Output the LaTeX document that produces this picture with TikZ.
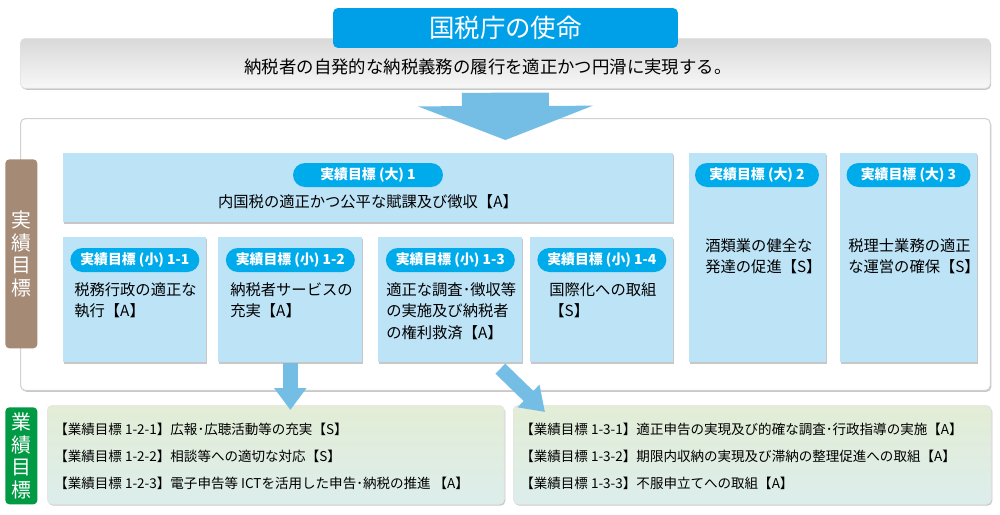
\documentclass[tikz,border=0pt]{standalone}
\usepackage{fontspec}
\setmainfont{Noto Sans CJK JP}
\usetikzlibrary{arrows.meta,calc,shadows,shapes.misc}
\definecolor{ntaTitle}{RGB}{0,160,233}
\definecolor{ntaPill}{RGB}{0,171,236}
\definecolor{ntaBox}{RGB}{189,227,247}
\definecolor{ntaArrow}{RGB}{116,190,229}
\definecolor{ntaBrown}{RGB}{165,138,118}
\definecolor{ntaGreen}{RGB}{0,153,68}
\definecolor{goalTop}{RGB}{227,237,214}
\definecolor{goalBot}{RGB}{220,237,235}

\begin{document}
\begin{tikzpicture}[
  x=0.02cm, y=-0.02cm,
  softshadow/.style={drop shadow={shadow xshift=0.6pt, shadow yshift=-0.8pt,
                     opacity=0.22, fill=black}},
  frame/.style={draw=black!18, line width=0.6pt, fill=white,
                rounded corners=0.1cm, anchor=north west, inner sep=0pt, softshadow},
  banner/.style={fill=ntaTitle, text=white, rounded corners=0.1cm, inner sep=0pt,
                 font=\fontsize{14.5}{16}\selectfont},
  mission/.style={draw=black!12, line width=0.4pt, top color=black!15,
                  bottom color=black!3, rounded corners=0.1cm,
                  anchor=north west, inner sep=0pt, softshadow},
  box/.style={fill=ntaBox, anchor=north west, inner sep=0pt, softshadow},
  pill/.style={rounded rectangle, fill=ntaPill, text=white, inner sep=0pt,
               minimum height=0.48cm, font=\fontsize{7.9}{9}\selectfont\bfseries},
  txt/.style={font=\fontsize{8.7}{12.2}\selectfont, align=left,
              anchor=north west, inner sep=0pt},
  side/.style={rounded corners=0.08cm, text=white, align=center,
               anchor=north west, inner sep=0pt, minimum width=0.64cm,
               font=\fontsize{11.3}{12.9}\selectfont},
  goal/.style={top color=goalTop, bottom color=goalBot, draw=black!10,
               line width=0.4pt, rounded corners=0.1cm, anchor=north west,
               inner sep=0pt, minimum height=1.98cm, softshadow},
  goaltxt/.style={font=\fontsize{7.7}{9}\selectfont, anchor=west, inner sep=0pt},
  flow/.style={draw=ntaArrow, line cap=butt}]

\useasboundingbox (0,0) rectangle (1000,514);

% ============================ mission =================================
\node[mission, minimum width=19.4cm, minimum height=1.0cm] (mission) at (20,38) {};
\node[font=\fontsize{9.9}{11}\selectfont, inner sep=0pt] (missiontxt) at (488,67)
  {納税者の自発的な納税義務の履行を適正かつ円滑に実現する。};
\node[banner, minimum width=6.9cm, minimum height=0.8cm] (title) at (505.5,28)
  {国税庁の使命};

% ========================= performance goals ==========================
\node[frame, minimum width=19.4cm, minimum height=5.44cm] (frame) at (20,118) {};
\node[side, fill=ntaBrown, minimum height=3.78cm] (jisseki) at (5,159) {実\\績\\目\\標};

% large goals
\node[box, minimum width=12.2cm, minimum height=1.38cm] (big1) at (63,153) {};
\node[box, minimum width=2.74cm, minimum height=4.18cm] (big2) at (689,153) {};
\node[box, minimum width=2.74cm, minimum height=4.18cm] (big3) at (840,153) {};
\node[pill, minimum width=3.0cm]  (p1) at (368,175)   {実績目標 (大) 1};
\node[pill, minimum width=2.48cm] (p2) at (757,175)   {実績目標 (大) 2};
\node[pill, minimum width=2.48cm] (p3) at (908.5,175) {実績目標 (大) 3};
\node[font=\fontsize{8.7}{10}\selectfont, inner sep=0pt] (t1) at (368,202)
  {内国税の適正かつ公平な賦課及び徴収【A】};
\node[txt] (t2) at (705,238) {酒類業の健全な\\発達の促進【S】};
\node[txt] (t3) at (848,238) {税理士業務の適正\\な運営の確保【S】};

% small goals under (大) 1
\foreach \nm/\xx/\ww/\tx/\pp/\body in {%
    s11/63/2.86/74/1-1/{税務行政の適正な\\執行【A】},
    s12/218/2.88/230/1-2/{納税者サービスの\\充実【A】},
    s13/378/2.88/386/1-3/{適正な調査･徴収等\\の実施及び納税者\\の権利救済【A】},
    s14/530/2.86/549/1-4/{国際化への取組\\【S】}}{%
  \node[box, minimum width=\ww cm, minimum height=2.5cm] (\nm) at (\xx,237) {};
  \node[pill, minimum width=2.58cm] (\nm-p) at (\nm.center |- 0,260) {実績目標 (小) \pp};
  \node[txt] (\nm-t) at (\tx,282) {\body};}

% ========================= operational goals ==========================
\node[side, fill=ntaGreen, minimum height=1.94cm] (gyoseki) at (5,407) {業\\績\\目\\標};
\node[goal, minimum width=9.14cm] (gl) at (47,405) {};
\node[goal, minimum width=9.56cm] (gr) at (513,405) {};
\foreach \txt [count=\rr from 0] in {%
    {【業績目標 1-2-1】広報･広聴活動等の充実【S】},
    {【業績目標 1-2-2】相談等への適切な対応【S】},
    {【業績目標 1-2-3】電子申告等 ICTを活用した申告･納税の推進 【A】}}{%
  \node[goaltxt] (gl-\rr) at (54,{429+27*\rr}) {\txt};}
\foreach \txt [count=\rr from 0] in {%
    {【業績目標 1-3-1】適正申告の実現及び的確な調査･行政指導の実施【A】},
    {【業績目標 1-3-2】期限内収納の実現及び滞納の整理促進への取組【A】},
    {【業績目標 1-3-3】不服申立てへの取組【A】}}{%
  \node[goaltxt] (gr-\rr) at (520,{429+27*\rr}) {\txt};}

% ============================== arrows ================================
\coordinate (mstem) at ($(mission.south)+(0,4)$);
\coordinate (mtip)  at ($(frame.north)+(0,22)$);
\draw[flow, line width=1.74cm, -{Triangle[width=3.48cm, length=0.68cm]}] (mstem) -- (mtip);
\coordinate (t12) at ($(s12.south |- gl.north)+(0,5)$);
\draw[flow, line width=0.3cm, -{Triangle[width=0.62cm, length=0.44cm]}] (s12.south) -- (t12);
\coordinate (f13) at ($(s13.south)+(50,6)$);
\coordinate (t13) at ($(gr.north west)+(32,7)$);
\draw[flow, line width=0.28cm, -{Triangle[width=0.6cm, length=0.46cm]}] (f13) -- (t13);

\end{tikzpicture}
\end{document}
